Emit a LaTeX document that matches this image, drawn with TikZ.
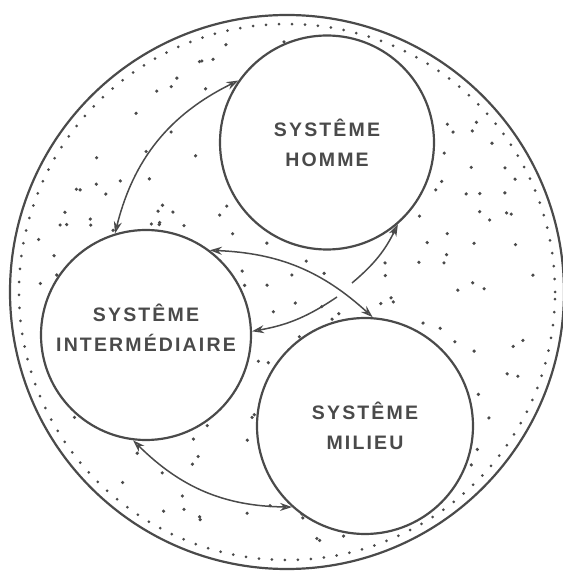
\documentclass[tikz,border=0pt]{standalone}
\usepackage{fontspec}
\usepackage{tikz}
\usetikzlibrary{arrows.meta,positioning,calc}
\newfontfamily\lettering[LetterSpace=11]{Liberation Sans}
\definecolor{cInk}{HTML}{4a4a4a}
\tikzset{
  sys/.style={circle,draw=cInk,line width=2.2pt,fill=white,inner sep=0pt,
              align=center,text=cInk,font=\lettering\bfseries\fontsize{19.5}{30}\selectfont},
  caption/.style={align=center,text=cInk,font=\lettering\bfseries\fontsize{19.5}{30}\selectfont},
  link/.style={{Stealth[open,length=12pt,width=8pt]}-{Stealth[open,length=12pt,width=8pt]},
              line width=1.5pt,cInk},
  feed/.style={-{Stealth[open,length=12pt,width=8pt]},line width=1.5pt,cInk},
  ring/.style={cInk,line width=3pt,line cap=round,dash pattern=on 0pt off 13pt},
}

\begin{document}
\begin{tikzpicture}[x=1pt,y=1pt]
  \useasboundingbox (0,0) rectangle (563,574);
  \coordinate (c) at (287,282);
  \draw[cInk,line width=2.2pt] (c) circle[radius=277];
  \draw[ring] (c) circle[radius=268];
  % stipple
  \pgfmathsetseed{4}
  \foreach \i in {1,...,300}{
    \pgfmathsetmacro\ang{360*rnd}
    \pgfmathsetmacro\rad{255*sqrt(rnd)}
    \fill[cInk] (c) ++(\ang:\rad) circle[radius=1.8];
  }
  \node[sys,minimum size=214pt](homme) at (327,431.5){SYSTÊME\\HOMME};
  \node[sys,minimum size=210pt](inter) at (146,239){};
  \node[caption] (interT) at ([yshift=7pt]inter.center){SYSTÊME\\INTERMÉDIAIRE};
  \node[sys,minimum size=216pt](milieu) at (365,148){SYSTÊME\\MILIEU};
  \coordinate (toH) at (352,291);
  \coordinate (toI) at (337,277);
  \draw[link](inter.107) to[bend left=25] (homme.145);
  \draw[link](inter.53) to[bend left=20] (milieu.86);
  \draw[link](inter.263) to[bend right=22] (milieu.228);
  \draw[feed](toH) to[bend right=12] (homme.-49);
  \draw[feed](toI) to[bend left=12] (inter.2);
\end{tikzpicture}
\end{document}
